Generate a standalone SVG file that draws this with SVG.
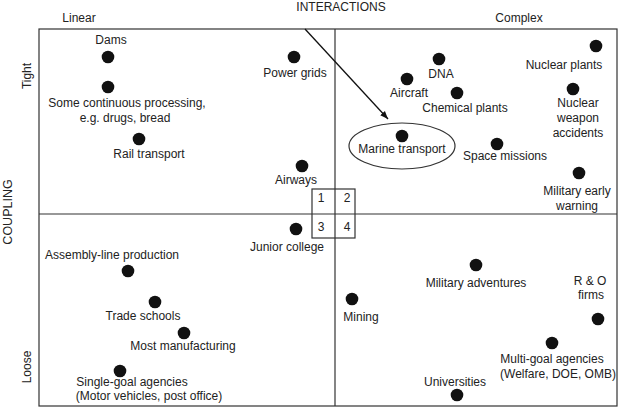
<svg xmlns="http://www.w3.org/2000/svg" width="620" height="407" viewBox="0 0 620 407">
<defs>
<marker id="ah" viewBox="0 0 10 10" refX="10" refY="5" markerWidth="8" markerHeight="8" markerUnits="userSpaceOnUse" orient="auto">
<path d="M0,1 L10,5 L0,9 z" fill="#111"/>
</marker>
<style>
text{font-family:"Liberation Sans",Arial,sans-serif;font-size:12px;fill:#222;text-anchor:middle}
.dot{fill:#111}
.ln{stroke:#333;stroke-width:1.2;fill:none}
</style>
</defs>
<rect width="620" height="407" fill="#fff"/>
<g id="frame">
<rect x="39" y="29" width="578" height="377" class="ln"/>
<line x1="335" y1="29" x2="335" y2="406" class="ln"/>
<line x1="39" y1="214" x2="617" y2="214" class="ln"/>
<rect x="312" y="189" width="43" height="49" class="ln"/>
<text x="321" y="202">1</text>
<text x="347" y="202">2</text>
<text x="321" y="231">3</text>
<text x="347" y="231">4</text>
</g>
<g id="axes">
<text x="341" y="11">INTERACTIONS</text>
<text x="79" y="22">Linear</text>
<text x="519" y="22">Complex</text>
<text transform="translate(31,76) rotate(-90)">Tight</text>
<text transform="translate(12,212) rotate(-90)" style="font-size:12.5px">COUPLING</text>
<text transform="translate(31,367) rotate(-90)">Loose</text>
</g>
<g id="connectors">
<line x1="305" y1="29" x2="388" y2="119" stroke="#111" stroke-width="1.3" marker-end="url(#ah)"/>
</g>
<g id="dams"><circle class="dot" cx="108" cy="57" r="6.3"/><text x="111" y="44">Dams</text></g>
<g id="continuous"><circle class="dot" cx="108" cy="87" r="6.3"/><text x="127" y="107">Some continuous processing,</text><text x="125" y="122">e.g. drugs, bread</text></g>
<g id="rail"><circle class="dot" cx="139" cy="139" r="6.3"/><text x="149" y="158">Rail transport</text></g>
<g id="powergrids"><circle class="dot" cx="294" cy="57" r="6.3"/><text x="295" y="77">Power grids</text></g>
<g id="airways"><circle class="dot" cx="302" cy="166" r="6.3"/><text x="296" y="184">Airways</text></g>
<g id="dna"><circle class="dot" cx="439" cy="59" r="6.3"/><text x="441" y="78">DNA</text></g>
<g id="aircraft"><circle class="dot" cx="407" cy="79" r="6.3"/><text x="409" y="97">Aircraft</text></g>
<g id="chemical"><circle class="dot" cx="457" cy="93" r="6.3"/><text x="465" y="112">Chemical plants</text></g>
<g id="nuclearplants"><circle class="dot" cx="596" cy="46" r="6.3"/><text x="564" y="69">Nuclear plants</text></g>
<g id="nuclearweapon"><circle class="dot" cx="573" cy="89" r="6.3"/><text x="578" y="107">Nuclear</text><text x="578" y="122">weapon</text><text x="578" y="137">accidents</text></g>
<g id="marine"><ellipse cx="402" cy="146" rx="53" ry="23" class="ln"/><circle class="dot" cx="402" cy="136" r="6.3"/><text x="402" y="153">Marine transport</text></g>
<g id="space"><circle class="dot" cx="497" cy="144" r="6.3"/><text x="505" y="160">Space missions</text></g>
<g id="earlywarning"><circle class="dot" cx="579" cy="173" r="6.3"/><text x="577" y="195">Military early</text><text x="577" y="210">warning</text></g>
<g id="junior"><circle class="dot" cx="296" cy="229" r="6.3"/><text x="287" y="251">Junior college</text></g>
<g id="assembly"><circle class="dot" cx="128" cy="271" r="6.3"/><text x="112" y="259">Assembly-line production</text></g>
<g id="trade"><circle class="dot" cx="155" cy="302" r="6.3"/><text x="143" y="320">Trade schools</text></g>
<g id="manufacturing"><circle class="dot" cx="184" cy="333" r="6.3"/><text x="183" y="350">Most manufacturing</text></g>
<g id="singlegoal"><circle class="dot" cx="120" cy="371" r="6.3"/><text x="132" y="386">Single-goal agencies</text><text x="149" y="400">(Motor vehicles, post office)</text></g>
<g id="military"><circle class="dot" cx="476" cy="265" r="6.3"/><text x="476" y="287">Military adventures</text></g>
<g id="mining"><circle class="dot" cx="352" cy="299" r="6.3"/><text x="361" y="321">Mining</text></g>
<g id="rofirms"><circle class="dot" cx="598" cy="319" r="6.3"/><text x="590" y="285">R &amp; O</text><text x="591" y="299">firms</text></g>
<g id="multigoal"><circle class="dot" cx="552" cy="343" r="6.3"/><text x="552" y="363">Multi-goal agencies</text><text x="558" y="378">(Welfare, DOE, OMB)</text></g>
<g id="universities"><circle class="dot" cx="457" cy="395" r="6.3"/><text x="455" y="386">Universities</text></g>
</svg>
